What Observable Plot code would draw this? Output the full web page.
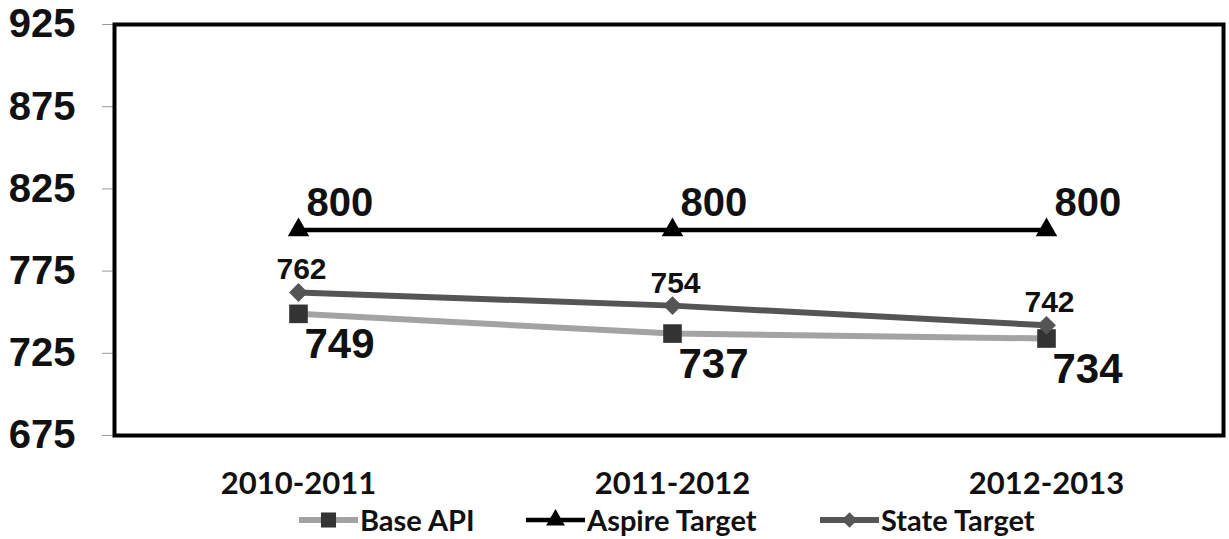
<!DOCTYPE html>
<html>
<head>
<meta charset="utf-8">
<script src="https://cdn.jsdelivr.net/npm/d3@7"></script>
<script src="https://cdn.jsdelivr.net/npm/@observablehq/plot@0.6"></script>
<style>
  html, body { margin: 0; padding: 0; background: #fff; }
  #chart { width: 1229px; }
  .legend {
    position: relative; height: 39px; width: 1229px;
    font-family: Lato, "Open Sans", sans-serif; font-weight: 700; font-size: 29px; color: #111;
  }
  .legend .item { position: absolute; top: 0; height: 39px; display: flex; align-items: center; }
  .legend svg { display: block; margin-right: 2px; }
</style>
</head>
<body>
<div id="chart"></div>
<div class="legend" id="legend"></div>
<script>
// School years on the x axis
const categories = ["2010-2011", "2011-2012", "2012-2013"];
// API scores per series
const baseAPI = [749, 737, 734];
const aspireTarget = [800, 800, 800];
const stateTarget = [762, 754, 742];
// y axis ticks
const yTicks = [675, 725, 775, 825, 875, 925];
const seriesNames = ["Base API", "Aspire Target", "State Target"];

const rows = (values, series) => categories.map((c, i) => ({year: c, value: values[i], series}));
const baseRows = rows(baseAPI, seriesNames[0]);
const aspireRows = rows(aspireTarget, seriesNames[1]);
const stateRows = rows(stateTarget, seriesNames[2]);

const labelFont = "'Liberation Sans', Arial, sans-serif";

const chart = Plot.plot({
  width: 1229,
  height: 500,
  marginTop: 24,
  marginBottom: 65,
  marginLeft: 114,
  marginRight: 6,
  style: {background: "#fff", color: "#111"},
  x: {type: "point", domain: categories, padding: 0.48, align: 0.51, label: null},
  y: {domain: [675, 925], label: null},
  marks: [
    // tick labels
    Plot.axisY(yTicks, {
      label: null, tickSize: 12, tickPadding: 27, stroke: "#9a9a9a", fill: "#111",
      fontSize: 40, fontWeight: "bold", fontFamily: labelFont
    }),
    Plot.axisX({
      label: null, tickSize: 0, tickPadding: 36, fill: "#111",
      fontSize: 31, fontWeight: 700, fontFamily: "Lato, 'Open Sans', sans-serif"
    }),
    // Base API
    Plot.line(baseRows, {x: "year", y: "value", stroke: "#a3a3a3", strokeWidth: 6}),
    Plot.dot(baseRows, {x: "year", y: "value", symbol: "square", r: 10.5, fill: "#333"}),
    // Aspire Target
    Plot.line(aspireRows, {x: "year", y: "value", stroke: "#000", strokeWidth: 4.5}),
    Plot.dot(aspireRows, {x: "year", y: "value", symbol: "triangle", r: 8, fill: "#000"}),
    // State Target
    Plot.line(stateRows, {x: "year", y: "value", stroke: "#555", strokeWidth: 6}),
    Plot.dot(stateRows, {x: "year", y: "value", symbol: "diamond2", r: 8.5, fill: "#555"}),
    // value labels
    Plot.text(aspireRows, {
      x: "year", y: "value", text: d => String(d.value),
      textAnchor: "start", lineAnchor: "bottom", dx: 8, dy: -14,
      fontSize: 40, fontWeight: "bold", fontFamily: labelFont, fill: "#111"
    }),
    Plot.text(stateRows, {
      x: "year", y: "value", text: d => String(d.value),
      textAnchor: "middle", lineAnchor: "bottom", dx: 3, dy: -13,
      fontSize: 30, fontWeight: "bold", fontFamily: labelFont, fill: "#111"
    }),
    Plot.text(baseRows, {
      x: "year", y: "value", text: d => String(d.value),
      textAnchor: "start", lineAnchor: "bottom", dx: 6, dy: 44,
      fontSize: 42, fontWeight: "bold", fontFamily: labelFont, fill: "#111"
    }),
    // plot area border
    Plot.frame({stroke: "#000", strokeWidth: 4})
  ]
});
document.getElementById("chart").append(chart);

// legend below the chart
const swatches = [
  {name: seriesNames[0], line: "#a3a3a3", lw: 6, marker: "square", fill: "#333", r: 8.5, left: 299},
  {name: seriesNames[1], line: "#000", lw: 4.5, marker: "triangle", fill: "#000", r: 7, left: 526},
  {name: seriesNames[2], line: "#555", lw: 6, marker: "diamond2", fill: "#555", r: 7, left: 820}
];
const symbolFor = {square: d3.symbolSquare, triangle: d3.symbolTriangle, diamond2: d3.symbolDiamond2};
const legend = d3.select("#legend");
for (const s of swatches) {
  const item = legend.append("div").attr("class", "item").style("left", s.left + "px");
  const svg = item.append("svg").attr("width", 59).attr("height", 24);
  svg.append("line").attr("x1", 0).attr("x2", 59).attr("y1", 12).attr("y2", 12)
    .attr("stroke", s.line).attr("stroke-width", s.lw);
  svg.append("path").attr("transform", "translate(29.5,12)")
    .attr("d", d3.symbol(symbolFor[s.marker], Math.PI * s.r * s.r)())
    .attr("fill", s.fill);
  item.append("span").text(s.name);
}
</script>
</body>
</html>
